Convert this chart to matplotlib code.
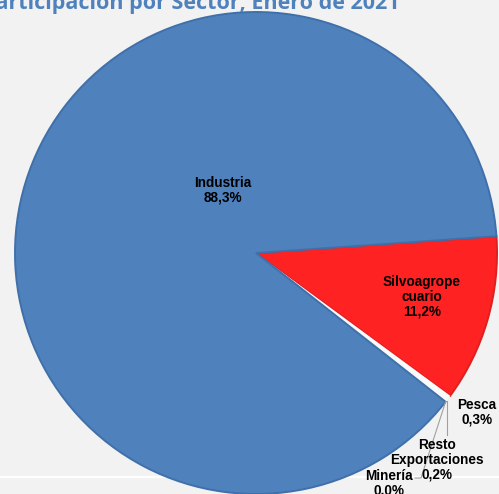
import matplotlib.pyplot as plt
import numpy as np

# datos (orden horario desde el sector rojo)
sectores = ["Silvoagrope\ncuario", "Pesca", "Resto\nExportaciones", "Minería", "Industria"]
participacion = [11.2, 0.3, 0.2, 0.0, 88.3]
etiquetas = ["11,2%", "0,3%", "0,2%", "0,0%", "88,3%"]

colores = ["#ff2222", "#fbfbfb", "#fbfbfb", "#fbfbfb", "#4f81bd"]
bordes = ["#dd2020", "none", "none", "none", "#3f70aa"]

W, H = 499, 494
fig = plt.figure(figsize=(W / 100, H / 100), dpi=100)
fig.patch.set_facecolor("#f2f2f2")
ax = fig.add_axes([0, 0, 1, 1])
ax.set_facecolor("#f2f2f2")

# linea blanca del area de grafico
ax.axhline(H - 477, color="white", lw=1.6, zorder=0)

cx, cy, R = 256, H - 253, 241
start = 4
wedges, _ = ax.pie(participacion, colors=colores, startangle=start, counterclock=False,
                   explode=[0.02, 0, 0, 0, 0], radius=R, center=(cx, cy), frame=True,
                   wedgeprops=dict(linewidth=1.4))
for w, b in zip(wedges, bordes):
    w.set_edgecolor(b)
wedges[4].set_zorder(3)
ax.set_xlim(0, W)
ax.set_ylim(0, H)
ax.set_aspect("equal")
ax.axis("off")

font = dict(family="Liberation Sans", fontweight="bold", fontsize=9.8, color="black",
            ha="center", va="center", linespacing=1.05, zorder=5)

ax.text(223, H - 190, sectores[4] + "\n" + etiquetas[4], **font)
ax.text(422, H - 297, sectores[0] + "\n" + etiquetas[0], **font)
ax.text(477, H - 412, sectores[1] + "\n" + etiquetas[1], **font)
ax.text(437, H - 460, sectores[2] + "\n" + etiquetas[2], **font)
ax.text(389, H - 483, sectores[3] + "\n" + etiquetas[3], **font)

# lineas guia desde el borde del pastel
ang = start - np.cumsum([0] + participacion[:-1]) * 3.6
def borde(a):
    return cx + R * np.cos(np.radians(a)), cy + R * np.sin(np.radians(a))
px, py = borde(ang[2] - 0.36)
ax.plot([px, px], [py, H - 435], color="#a0a0a0", lw=0.8, zorder=4)
mx, my = borde(ang[3])
ax.plot([mx, 421, 415], [my, H - 478, H - 478], color="#a0a0a0", lw=0.8, zorder=4)

fig.text(400 / W, 1 - 8.5 / H, "Participación por Sector, Enero de 2021", ha="right",
         va="baseline", color="#4f81bd", fontsize=15.5, fontweight="bold", family="Open Sans")

fig.savefig("out.png", dpi=100, facecolor=fig.get_facecolor())
